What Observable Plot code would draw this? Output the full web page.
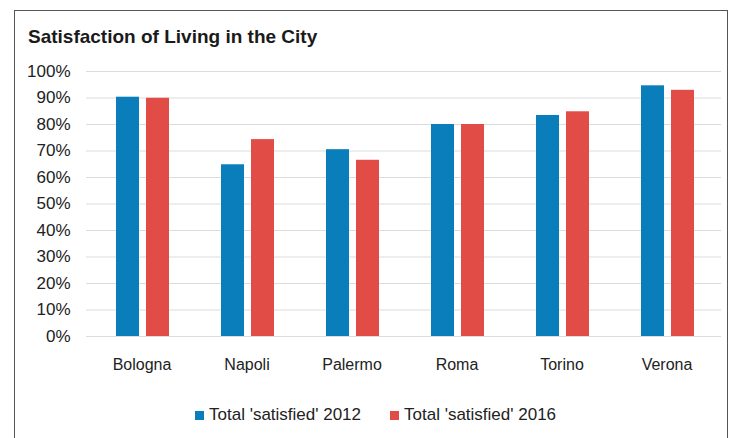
<!DOCTYPE html>
<html>
<head>
<meta charset="utf-8">
<script src="https://cdn.jsdelivr.net/npm/d3@7"></script>
<script src="https://cdn.jsdelivr.net/npm/@observablehq/plot@0.6"></script>
<style>
  body { margin: 0; background: #fff; }
  #wrap { position: relative; width: 732px; height: 438px; overflow: hidden; font-family: "Liberation Sans", Arial, sans-serif; }
  #frame { position: absolute; left: 14px; top: 10px; width: 714px; height: 460px; border: 1.5px solid #555; box-sizing: border-box; }
  #title { position: absolute; left: 28px; top: 26px; font-size: 19px; font-weight: bold; color: #1a1a1a; white-space: nowrap; }
  #chart { position: absolute; left: 0; top: 50px; }
  #legend { position: absolute; left: 195px; top: 405px; font-size: 17px; color: #222; white-space: nowrap; display: flex; align-items: center; }
  .sw { display: inline-block; width: 9px; height: 9px; margin-right: 5px; }
  .item { display: flex; align-items: center; margin-right: 29px; }
</style>
</head>
<body>
<div id="wrap">
  <div id="frame"></div>
  <div id="title">Satisfaction of Living in the City</div>
  <div id="chart"></div>
  <div id="legend"></div>
</div>
<script>
const cities = ["Bologna", "Napoli", "Palermo", "Roma", "Torino", "Verona"];
const seriesNames = ["Total 'satisfied' 2012", "Total 'satisfied' 2016"];
const values2012 = [0.903, 0.648, 0.705, 0.80, 0.834, 0.946];
const values2016 = [0.899, 0.743, 0.665, 0.80, 0.848, 0.929];
const colors = ["#0a7dbb", "#e24c47"];
const yTicks = [0, 0.1, 0.2, 0.3, 0.4, 0.5, 0.6, 0.7, 0.8, 0.9, 1.0];

const rows2012 = cities.map((c, i) => ({city: c, value: values2012[i]}));
const rows2016 = cities.map((c, i) => ({city: c, value: values2016[i]}));

const chart = Plot.plot({
  width: 732,
  height: 326,
  marginTop: 21,
  marginLeft: 86,
  marginRight: 11,
  marginBottom: 40,
  style: {fontFamily: "'Liberation Sans', Arial, sans-serif", fontSize: "16px", color: "#222", background: "transparent"},
  x: {domain: cities, padding: 0, label: null},
  y: {domain: [0, 1], label: null},
  marks: [
    Plot.gridY(yTicks, {stroke: "#dcdcdc", strokeOpacity: 1, strokeWidth: 1}),
    Plot.axisY(yTicks, {tickSize: 0, tickPadding: 16, tickFormat: d3.format(".0%"), label: null, fontSize: 17}),
    Plot.axisX({tickSize: 0, tickPadding: 22, label: null, fontSize: 16}),
    Plot.barY(rows2012, {x: "city", y: "value", fill: colors[0], insetLeft: 27, insetRight: 55}),
    Plot.barY(rows2016, {x: "city", y: "value", fill: colors[1], insetLeft: 57, insetRight: 25})
  ]
});
document.getElementById("chart").appendChild(chart);

const legend = document.getElementById("legend");
seriesNames.forEach((s, i) => {
  const item = document.createElement("span");
  item.className = "item";
  const sw = document.createElement("span");
  sw.className = "sw";
  sw.style.background = colors[i];
  item.appendChild(sw);
  item.appendChild(document.createTextNode(s));
  legend.appendChild(item);
});
</script>
</body>
</html>
